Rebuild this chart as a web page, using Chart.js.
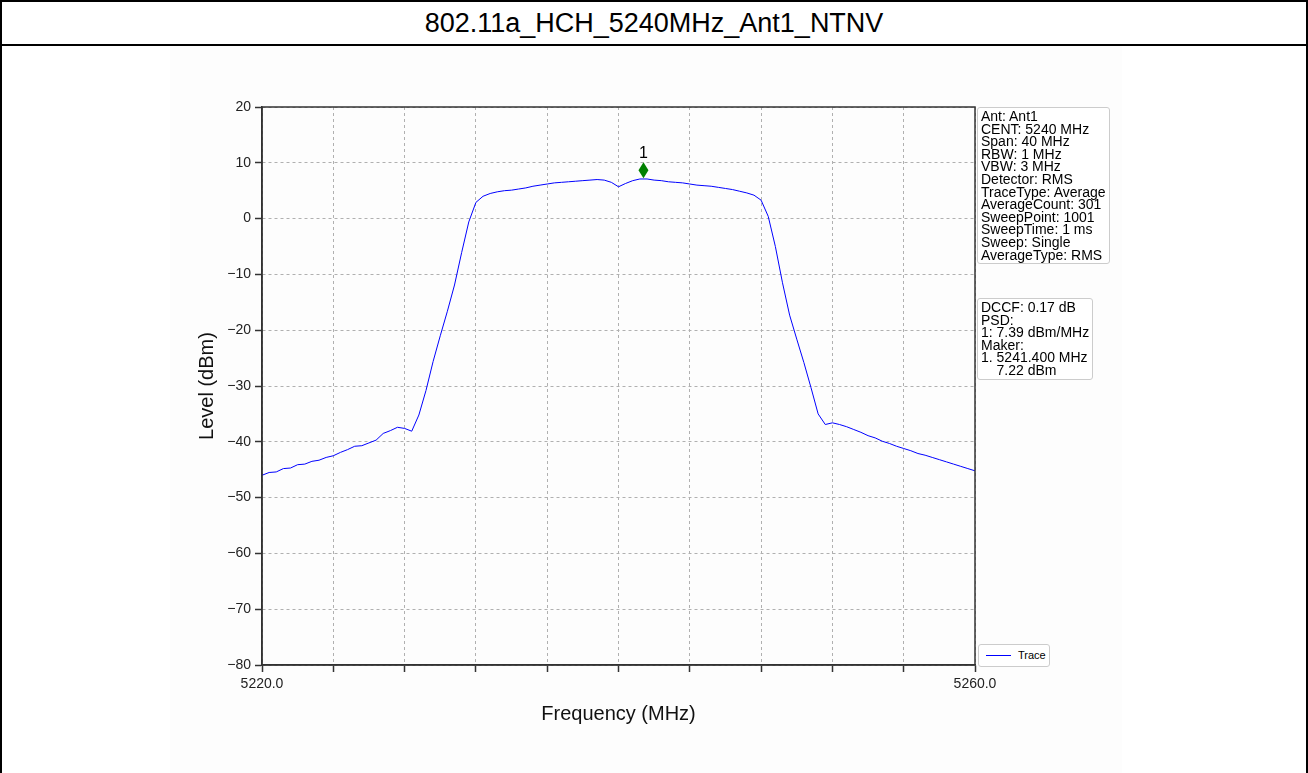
<!DOCTYPE html>
<html lang="en">
<head>
<meta charset="UTF-8">
<title>802.11a_HCH_5240MHz_Ant1_NTNV</title>
<script src="https://cdn.jsdelivr.net/npm/chart.js"></script>
<style>
  html, body { margin: 0; padding: 0; background: #fff; }
  body { width: 1308px; height: 773px; position: relative; overflow: hidden; font-family: "Liberation Sans", Arial, sans-serif; }
  #frame { position: absolute; left: 0; top: 0; width: 1304px; height: 800px; border: 2px solid #000; }
  #title { position: absolute; left: 2px; top: 2px; width: 1304px; height: 42px; border-bottom: 2px solid #000; text-align: center; font-size: 27px; line-height: 42px; color: #000; }
  #fig { position: absolute; left: 170px; top: 46px; width: 952px; height: 727px; background: #fdfdfd; }
  #wrap { position: absolute; left: 0; top: 46px; width: 1308px; height: 727px; }
  .info { position: absolute; background: #fff; border: 1px solid #ccc; border-radius: 3px; font-size: 14px; line-height: 12.6px; color: #000; padding: 2px 3px; white-space: pre; }
  #legend { position: absolute; left: 978px; top: 644px; width: 70px; height: 21px; background: #fff; border: 1px solid #ccc; border-radius: 3px; font-size: 11px; }
  #legend .swatch { position: absolute; left: 7px; top: 10px; width: 25px; height: 1px; background: #0000ff; }
  #legend .lbl { position: absolute; left: 39px; top: 4px; }
</style>
</head>
<body>
  <div id="frame"></div>
  <div id="title">802.11a_HCH_5240MHz_Ant1_NTNV</div>
  <div id="fig"></div>
  <div id="wrap"><canvas id="spectrum" width="1308" height="727"></canvas></div>
  <div class="info" id="info1" style="left:977px; top:107px;"></div>
  <div class="info" id="info2" style="left:977px; top:298px;"></div>
  <div id="legend"><span class="swatch"></span><span class="lbl"></span></div>

  <script>
    // sweep readings (MHz / dBm)
    const freqs = [
      5220.0, 5220.4, 5220.8, 5221.2, 5221.6, 5222.0, 5222.4, 5222.8, 5223.2, 5223.6,
      5224.0, 5224.4, 5224.8, 5225.2, 5225.6, 5226.0, 5226.4, 5226.8, 5227.2, 5227.6,
      5228.0, 5228.4, 5228.8, 5229.2, 5229.6, 5230.0, 5230.4, 5230.8, 5231.2, 5231.6,
      5232.0, 5232.4, 5232.8, 5233.2, 5233.6, 5234.0, 5234.4, 5234.8, 5235.2, 5235.6,
      5236.0, 5236.4, 5236.8, 5237.2, 5237.6, 5238.0, 5238.4, 5238.8, 5239.2, 5239.6,
      5240.0, 5240.4, 5240.8, 5241.2, 5241.6, 5242.0, 5242.4, 5242.8, 5243.2, 5243.6,
      5244.0, 5244.4, 5244.8, 5245.2, 5245.6, 5246.0, 5246.4, 5246.8, 5247.2, 5247.6,
      5248.0, 5248.4, 5248.8, 5249.2, 5249.6, 5250.0, 5250.4, 5250.8, 5251.2, 5251.6,
      5252.0, 5252.4, 5252.8, 5253.2, 5253.6, 5254.0, 5254.4, 5254.8, 5255.2, 5255.6,
      5256.0, 5256.4, 5256.8, 5257.2, 5257.6, 5258.0, 5258.4, 5258.8, 5259.2, 5259.6,
      5260.0
    ];
    const levels = [
      -46.0, -45.5, -45.4, -44.8, -44.7, -44.1, -44.0, -43.5, -43.3, -42.8,
      -42.5, -41.9, -41.4, -40.8, -40.7, -40.2, -39.7, -38.5, -38.0, -37.4,
      -37.6, -38.1, -35.2, -30.8, -25.6, -21.0, -16.6, -11.9, -6.1, -0.6,
      2.9, 4.0, 4.5, 4.8, 5.0, 5.1, 5.3, 5.5, 5.8, 6.0,
      6.2, 6.4, 6.5, 6.6, 6.7, 6.8, 6.9, 7.0, 6.9, 6.5,
      5.7, 6.3, 6.8, 7.1, 7.1, 6.9, 6.8, 6.6, 6.5, 6.4,
      6.2, 6.0, 5.9, 5.8, 5.6, 5.4, 5.2, 4.9, 4.6, 4.2,
      3.3, 0.4, -5.0, -11.5, -17.3, -21.6, -25.8, -30.3, -35.0, -36.9,
      -36.6, -36.9, -37.3, -37.8, -38.3, -38.9, -39.3, -39.9, -40.3, -40.8,
      -41.2, -41.6, -42.1, -42.4, -42.8, -43.2, -43.6, -44.0, -44.4, -44.8,
      -45.2
    ];

    const xTicks = [5220, 5224, 5228, 5232, 5236, 5240, 5244, 5248, 5252, 5256, 5260];
    const xTickLabels = ['5220.0', '', '', '', '', '', '', '', '', '', '5260.0'];
    const yTicks = [20, 10, 0, -10, -20, -30, -40, -50, -60, -70, -80];

    const markerName = '1';
    const markerFreq = 5241.4;
    const markerLevel = 7.22;

    const settingsLines = [
      'Ant: Ant1', 'CENT: 5240 MHz', 'Span: 40 MHz', 'RBW: 1 MHz', 'VBW: 3 MHz',
      'Detector: RMS', 'TraceType: Average', 'AverageCount: 301', 'SweepPoint: 1001',
      'SweepTime: 1 ms', 'Sweep: Single', 'AverageType: RMS'
    ];
    const resultLines = [
      'DCCF: 0.17 dB', 'PSD:', '1: 7.39 dBm/MHz', 'Maker:', '1. 5241.400 MHz', '    7.22 dBm'
    ];

    document.getElementById('info1').textContent = settingsLines.join('\n');
    document.getElementById('info2').textContent = resultLines.join('\n');

    Chart.defaults.font.family = '"Liberation Sans", Arial, sans-serif';

    // peak marker: green diamond sitting on the point, number above
    const markerPlugin = {
      id: 'peakMarker',
      afterDatasetsDraw(chart) {
        const { ctx, scales: { x, y } } = chart;
        const px = x.getPixelForValue(markerFreq);
        const py = y.getPixelForValue(markerLevel);
        ctx.save();
        ctx.fillStyle = '#008000';
        ctx.beginPath();
        ctx.moveTo(px, py - 16);
        ctx.lineTo(px + 5, py - 8);
        ctx.lineTo(px, py);
        ctx.lineTo(px - 5, py - 8);
        ctx.closePath();
        ctx.fill();
        ctx.fillStyle = '#000';
        ctx.font = '16px "Liberation Sans", Arial, sans-serif';
        ctx.textAlign = 'center';
        ctx.textBaseline = 'middle';
        ctx.fillText(markerName, px, py - 25);
        ctx.restore();
      }
    };

    // matplotlib-like box round the plot
    const framePlugin = {
      id: 'frame',
      afterDraw(chart) {
        const { ctx, chartArea: a } = chart;
        ctx.save();
        ctx.strokeStyle = '#333';
        ctx.lineWidth = 1.5;
        ctx.strokeRect(a.left, a.top, a.right - a.left, a.bottom - a.top);
        ctx.restore();
      }
    };

    const chart = new Chart(document.getElementById('spectrum'), {
      type: 'line',
      data: {
        datasets: [{
          label: 'Trace',
          data: freqs.map((f, i) => ({ x: f, y: levels[i] })),
          borderColor: '#0000ff',
          borderWidth: 1,
          pointRadius: 0,
          tension: 0,
          fill: false
        }]
      },
      options: {
        responsive: false,
        animation: false,
        layout: { padding: { left: 190, right: 333, top: 61, bottom: 38 } },
        plugins: { legend: { display: false }, tooltip: { enabled: false } },
        scales: {
          x: {
            type: 'linear',
            min: 5220,
            max: 5260,
            afterBuildTicks: s => { s.ticks = xTicks.map(v => ({ value: v })); },
            afterFit: s => { s.height = 70; },
            ticks: {
              autoSkip: false,
              maxRotation: 0,
              padding: 4,
              color: '#222',
              font: { size: 14 },
              callback: (v, i) => xTickLabels[i]
            },
            grid: { color: '#b0b0b0', lineWidth: 1, tickColor: '#333', tickLength: 7, tickWidth: 1.5, tickBorderDash: [] },
            border: { color: '#333', width: 1.5, dash: [3, 3] },
            title: { display: true, text: 'Frequency (MHz)', color: '#111', font: { size: 20 }, padding: { top: 0, bottom: 9 } }
          },
          y: {
            min: -80,
            max: 20,
            afterBuildTicks: s => { s.ticks = yTicks.map(v => ({ value: v })); },
            afterFit: s => { s.width = 72; },
            ticks: {
              padding: 4,
              color: '#222',
              font: { size: 14 },
              callback: v => String(v).replace('-', '\u2212')
            },
            grid: { color: '#b0b0b0', lineWidth: 1, tickColor: '#333', tickLength: 7, tickWidth: 1.5, tickBorderDash: [] },
            border: { color: '#333', width: 1.5, dash: [3, 3] },
            title: { display: true, text: 'Level (dBm)', color: '#111', font: { size: 20 }, padding: { top: 5, bottom: 0 } }
          }
        }
      },
      plugins: [markerPlugin, framePlugin]
    });

    document.querySelector('#legend .lbl').textContent = chart.data.datasets[0].label;
    document.querySelector('#legend .swatch').style.background = chart.data.datasets[0].borderColor;
  </script>
</body>
</html>
